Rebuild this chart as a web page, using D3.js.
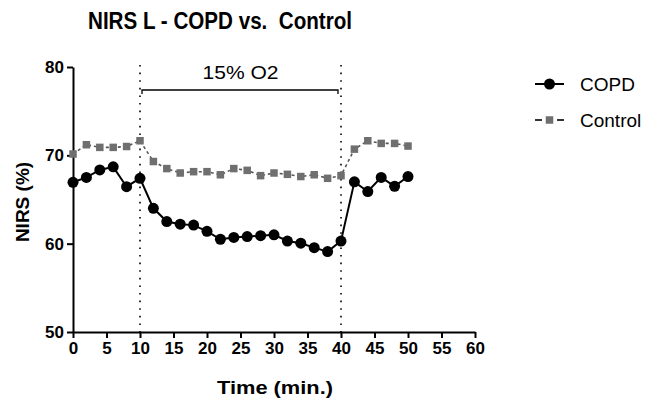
<!DOCTYPE html>
<html>
<head>
<meta charset="utf-8">
<script src="https://cdn.jsdelivr.net/npm/d3@7"></script>
<style>
  body { margin: 0; background: #fff; }
  svg { font-family: "Liberation Sans", Arial, sans-serif; }
</style>
</head>
<body>
<script>
const times = [0, 2, 4, 6, 8, 10, 12, 14, 16, 18, 20, 22, 24, 26, 28, 30, 32, 34, 36, 38, 40, 42, 44, 46, 48, 50];
const copd = [66.95, 67.5, 68.35, 68.7, 66.45, 67.4, 64.0, 62.5, 62.2, 62.1, 61.4, 60.5, 60.7, 60.8, 60.9, 61.0, 60.3, 60.05, 59.55, 59.1, 60.3, 67.0, 65.9, 67.5, 66.5, 67.6];
const control = [70.15, 71.2, 70.9, 70.9, 71.0, 71.65, 69.3, 68.5, 68.0, 68.15, 68.15, 67.8, 68.5, 68.3, 67.7, 68.0, 67.85, 67.6, 67.8, 67.4, 67.7, 70.7, 71.65, 71.35, 71.35, 71.05];
const xTicks = [0, 5, 10, 15, 20, 25, 30, 35, 40, 45, 50, 55, 60];
const yTicks = [50, 60, 70, 80];
const hypoxia = [10, 40];   // start / end of the 15% O2 period

const svg = d3.select('body').append('svg')
  .attr('width', 654)
  .attr('height', 403);

const xScale = d3.scaleLinear().domain([0, 60]).range([73, 475]);
const yScale = d3.scaleLinear().domain([50, 80]).range([332, 67]);

// title
svg.append('text')
  .attr('x', 220)
  .attr('y', 29)
  .attr('text-anchor', 'middle')
  .attr('font-size', 24)
  .attr('font-weight', 'bold')
  .attr('textLength', 264)
  .attr('lengthAdjust', 'spacingAndGlyphs')
  .style('white-space', 'pre')
  .text('NIRS L - COPD vs.  Control');

// axes
const xAxis = d3.axisBottom(xScale).tickValues(xTicks).tickSize(6).tickSizeOuter(0).tickPadding(4);
const yAxis = d3.axisLeft(yScale).tickValues(yTicks).tickSize(6).tickSizeOuter(0).tickPadding(3);

const gx = svg.append('g')
  .attr('transform', 'translate(0,' + yScale(50) + ')')
  .call(xAxis);
const gy = svg.append('g')
  .attr('transform', 'translate(' + xScale(0) + ',0)')
  .call(yAxis);

[gx, gy].forEach((g) => {
  g.select('.domain').attr('stroke', '#000').attr('stroke-width', 2);
  g.selectAll('.tick line').attr('stroke', '#000').attr('stroke-width', 2);
  g.selectAll('.tick text')
    .attr('fill', '#000')
    .attr('font-size', 17)
    .attr('font-weight', 'bold')
    .attr('font-family', '"Liberation Sans", Arial, sans-serif');
});

svg.append('text')
  .attr('x', 275)
  .attr('y', 394)
  .attr('text-anchor', 'middle')
  .attr('font-size', 19)
  .attr('font-weight', 'bold')
  .attr('textLength', 116)
  .attr('lengthAdjust', 'spacingAndGlyphs')
  .text('Time (min.)');

svg.append('text')
  .attr('transform', 'translate(29,' + 202 + ') rotate(-90)')
  .attr('text-anchor', 'middle')
  .attr('font-size', 19)
  .attr('font-weight', 'bold')
  .text('NIRS (%)');

// dotted markers for the hypoxia period
svg.append('g')
  .selectAll('line')
  .data(hypoxia)
  .enter()
  .append('line')
  .attr('x1', (d) => xScale(d))
  .attr('x2', (d) => xScale(d))
  .attr('y1', yScale(80) - 2)
  .attr('y2', yScale(50))
  .attr('stroke', '#000')
  .attr('stroke-width', 1.6)
  .attr('stroke-dasharray', '1.6,6');

svg.append('path')
  .attr('d', 'M' + (xScale(hypoxia[0]) + 2) + ',94 V90 H' + (xScale(hypoxia[1]) - 3) + ' V94')
  .attr('fill', 'none')
  .attr('stroke', '#000')
  .attr('stroke-width', 1.3);

svg.append('text')
  .attr('x', (xScale(hypoxia[0]) + xScale(hypoxia[1])) / 2)
  .attr('y', 79)
  .attr('text-anchor', 'middle')
  .attr('font-size', 18)
  .attr('textLength', 76)
  .attr('lengthAdjust', 'spacingAndGlyphs')
  .text('15% O2');

// series
const line = d3.line()
  .x((d) => xScale(d[0]))
  .y((d) => yScale(d[1]));

const controlPts = times.map((t, i) => [t, control[i]]);
const copdPts = times.map((t, i) => [t, copd[i]]);

svg.append('path')
  .datum(controlPts)
  .attr('d', line)
  .attr('fill', 'none')
  .attr('stroke', '#555')
  .attr('stroke-width', 1.6)
  .attr('stroke-dasharray', '3,3');

svg.append('path')
  .datum(copdPts)
  .attr('d', line)
  .attr('fill', 'none')
  .attr('stroke', '#000')
  .attr('stroke-width', 2);

const sq = 7.5;
svg.append('g')
  .selectAll('rect')
  .data(controlPts)
  .enter()
  .append('rect')
  .attr('x', (d) => xScale(d[0]) - sq / 2)
  .attr('y', (d) => yScale(d[1]) - sq / 2)
  .attr('width', sq)
  .attr('height', sq)
  .attr('fill', '#6f6f6f');

svg.append('g')
  .selectAll('circle')
  .data(copdPts)
  .enter()
  .append('circle')
  .attr('cx', (d) => xScale(d[0]))
  .attr('cy', (d) => yScale(d[1]))
  .attr('r', 5.5)
  .attr('fill', '#000');

// legend
const legend = svg.append('g').attr('transform', 'translate(535,0)');
legend.append('line')
  .attr('x1', 0).attr('x2', 29).attr('y1', 84).attr('y2', 84)
  .attr('stroke', '#000').attr('stroke-width', 2);
legend.append('circle')
  .attr('cx', 14.5).attr('cy', 84).attr('r', 5.5).attr('fill', '#000');
legend.append('text')
  .attr('x', 45).attr('y', 91)
  .attr('font-size', 19)
  .text('COPD');

legend.append('line')
  .attr('x1', 0).attr('x2', 29).attr('y1', 120).attr('y2', 120)
  .attr('stroke', '#333').attr('stroke-width', 2)
  .attr('stroke-dasharray', '7,15');
legend.append('rect')
  .attr('x', 14.5 - sq / 2).attr('y', 120 - sq / 2)
  .attr('width', sq).attr('height', sq).attr('fill', '#6f6f6f');
legend.append('text')
  .attr('x', 45).attr('y', 127)
  .attr('font-size', 19)
  .text('Control');
</script>
</body>
</html>
